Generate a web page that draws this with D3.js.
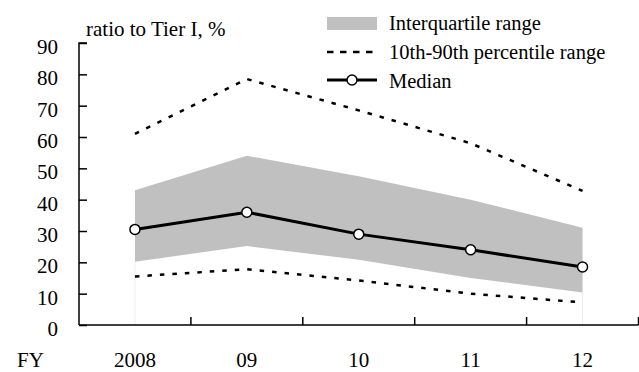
<!DOCTYPE html>
<html><head><meta charset="utf-8">
<script src="https://cdn.jsdelivr.net/npm/d3@7"></script>
<style>body{margin:0;background:#fff}svg{display:block}</style>
</head><body><svg id="c" width="639" height="372" font-family="Liberation Serif"></svg>
<script>
const categories = ["2008","09","10","11","12"];
const median = [30.5, 36, 29, 24, 18.5];
const q75 = [43, 54, 47.5, 40, 31];
const q25 = [20.2, 25.2, 20.8, 15, 10.4];
const p90 = [61, 78.5, 68.5, 58, 42.8];
const p10 = [15.5, 17.8, 14.2, 10, 7.2];
const yTicks = [0,10,20,30,40,50,60,70,80,90];
const yLabel = "ratio to Tier I, %";
const xPrefix = "FY";
const legendLabels = ["Interquartile range","10th-90th percentile range","Median"];

const FONT = "Liberation Serif";
const svg = d3.select("#c");
const m = {l:79, r:638.5, t:43, b:325};
const x = d3.scaleBand().domain(categories).range([m.l, m.r]);
const cx = c => x(c) + x.bandwidth()/2;
const y = d3.scaleLinear().domain([0,90]).range([m.b, m.t]);
const rows = categories.map((c,i)=>({c, med:median[i], hi:q75[i], lo:q25[i], p90:p90[i], p10:p10[i]}));

// faint edge lines
[rows[0], rows[rows.length-1]].forEach(d=>{
  svg.append("line").attr("x1",cx(d.c)).attr("x2",cx(d.c)).attr("y1",y(d.lo)).attr("y2",y(0))
    .attr("stroke","#eeeeee").attr("stroke-width",1);
});
svg.append("path").datum(rows)
  .attr("d", d3.area().x(d=>cx(d.c)).y0(d=>y(d.lo)).y1(d=>y(d.hi)))
  .attr("fill","#c0c0c0");
["p90","p10"].forEach(k=>{
  svg.append("path").datum(rows)
    .attr("d", d3.line().x(d=>cx(d.c)).y(d=>y(d[k])))
    .attr("fill","none").attr("stroke","#000").attr("stroke-width",2.5)
    .attr("stroke-dasharray","4.5,8");
});
svg.append("path").datum(rows)
  .attr("d", d3.line().x(d=>cx(d.c)).y(d=>y(d.med)))
  .attr("fill","none").attr("stroke","#000").attr("stroke-width",3);
svg.selectAll("circle.m").data(rows).join("circle").attr("class","m")
  .attr("cx",d=>cx(d.c)).attr("cy",d=>y(d.med)).attr("r",5)
  .attr("fill","#fff").attr("stroke","#000").attr("stroke-width",1.5);

// y axis
const ya = svg.append("g").attr("transform",`translate(${m.l},0)`)
  .call(d3.axisRight(y).tickValues(yTicks).tickSize(8).tickFormat(d3.format("d")));
ya.attr("font-family",FONT).attr("font-size",21);
ya.select(".domain").attr("d",`M8,${m.t}H0V${m.b}`).attr("stroke-width",1.5);
ya.selectAll(".tick line").attr("stroke-width",1.5);
ya.selectAll(".tick text").attr("x",-21).attr("dy",10.5).attr("text-anchor","end")
  .attr("font-size",21).attr("font-family",FONT).attr("fill","#000");

// x axis
const xa = svg.append("g").attr("transform",`translate(0,${m.b})`);
xa.append("line").attr("x1",m.l).attr("x2",m.r).attr("y1",0).attr("y2",0).attr("stroke","#000").attr("stroke-width",1.5);
const bounds = categories.map(c=>x(c)+x.bandwidth());
xa.selectAll("line.t").data(bounds).join("line").attr("class","t")
  .attr("x1",d=>d).attr("x2",d=>d).attr("y1",0).attr("y2",-8).attr("stroke","#000").attr("stroke-width",1.5);
xa.selectAll("text.l").data(categories).join("text").attr("class","l")
  .attr("x",d=>cx(d)).attr("y",42).attr("text-anchor","middle").attr("font-size",21).attr("font-family",FONT).text(d=>d);
xa.append("text").attr("x",17).attr("y",42).attr("font-size",21).attr("font-family",FONT).text(xPrefix);

svg.append("text").attr("x",86).attr("y",36).attr("font-size",21).attr("font-family",FONT).text(yLabel);

// legend
const lg = svg.append("g");
lg.append("rect").attr("x",327).attr("y",17).attr("width",50).attr("height",13).attr("fill","#c0c0c0");
lg.append("line").attr("x1",327).attr("x2",374).attr("y1",52).attr("y2",52)
  .attr("stroke","#000").attr("stroke-width",2.5).attr("stroke-dasharray","6.5,6.5");
lg.append("line").attr("x1",327).attr("x2",377).attr("y1",80).attr("y2",80).attr("stroke","#000").attr("stroke-width",3);
lg.append("circle").attr("cx",352).attr("cy",80).attr("r",5).attr("fill","#fff").attr("stroke","#000").attr("stroke-width",1.5);
lg.selectAll("text").data(legendLabels).join("text")
  .attr("x",389).attr("y",(d,i)=>30+i*29).attr("font-size",20.5).attr("font-family",FONT).text(d=>d);
</script></body></html>
